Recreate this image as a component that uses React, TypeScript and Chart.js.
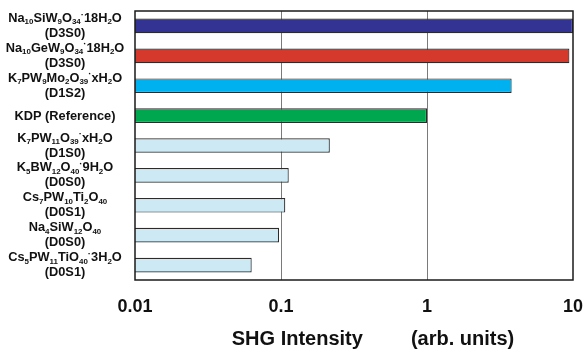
import React, { useEffect, useRef } from 'react';
import { Chart, registerables } from 'chart.js';

Chart.register(...registerables);

const FAMILY = '"Liberation Sans", Arial, Helvetica, sans-serif';

// Category labels (formula with _{sub} markup) and their class codes
const formulas = [
  'Na_{10}SiW_{9}O_{34}·18H_{2}O',
  'Na_{10}GeW_{9}O_{34}·18H_{2}O',
  'K_{7}PW_{9}Mo_{2}O_{39}·xH_{2}O',
  'KDP (Reference)',
  'K_{7}PW_{11}O_{39}·xH_{2}O',
  'K_{5}BW_{12}O_{40}·9H_{2}O',
  'Cs_{7}PW_{10}Ti_{2}O_{40}',
  'Na_{4}SiW_{12}O_{40}',
  'Cs_{5}PW_{11}TiO_{40}·3H_{2}O',
];
const codes = ['(D3S0)', '(D3S0)', '(D1S2)', '', '(D1S0)', '(D0S0)', '(D0S1)', '(D0S0)', '(D0S1)'];

// SHG intensity values (arb. units, relative to KDP)
const shgValues = [10, 9.45, 3.8, 1, 0.216, 0.113, 0.107, 0.097, 0.063];

const barColors = [
  '#333394', '#d4392b', '#00b1ef', '#00a74f',
  '#cde9f3', '#cde9f3', '#cde9f3', '#cde9f3', '#cde9f3',
];

const xTickValues = [0.01, 0.1, 1, 10];
const xTitleMain = 'SHG Intensity';
const xTitleUnit = '(arb. units)';

type Seg = { t: string; k: 'n' | 's' | 'd' };
function parse(text: string): Seg[] {
  const segs: Seg[] = [];
  const re = /_\{([^}]*)\}|·/g;
  let last = 0;
  let m: RegExpExecArray | null;
  while ((m = re.exec(text))) {
    if (m.index > last) segs.push({ t: text.slice(last, m.index), k: 'n' });
    if (m[0] === '·') segs.push({ t: '·', k: 'd' });
    else segs.push({ t: m[1], k: 's' });
    last = re.lastIndex;
  }
  if (last < text.length) segs.push({ t: text.slice(last), k: 'n' });
  return segs;
}

function drawRich(ctx: CanvasRenderingContext2D, text: string, cx: number, cy: number, size: number) {
  const segs = parse(text);
  const fontFor = (k: string) =>
    k === 'n' ? `bold ${size}px ${FAMILY}` : k === 's' ? `bold ${size * 0.62}px ${FAMILY}` : `bold ${size * 0.75}px ${FAMILY}`;
  const offFor = (k: string) => (k === 'n' ? 0 : k === 's' ? size * 0.3 : -size * 0.28);
  let total = 0;
  const widths = segs.map((s) => {
    ctx.font = fontFor(s.k);
    const w = ctx.measureText(s.t).width;
    total += w;
    return w;
  });
  let x = cx - total / 2;
  segs.forEach((s, i) => {
    ctx.font = fontFor(s.k);
    ctx.fillText(s.t, x, cy + offFor(s.k));
    x += widths[i];
  });
}

const labelPlugin = {
  id: 'richLabels',
  afterDraw(chart: any) {
    const { ctx, chartArea, scales } = chart;
    const y = scales.y;
    ctx.save();
    ctx.fillStyle = '#111';
    ctx.textBaseline = 'middle';
    ctx.textAlign = 'left';
    const cx = 65;
    formulas.forEach((f, i) => {
      const cy = y.getPixelForValue(i);
      if (codes[i]) {
        drawRich(ctx, f, cx, cy - 7.5, 12.8);
        drawRich(ctx, codes[i], cx, cy + 7.5, 12.8);
      } else {
        drawRich(ctx, f, cx, cy + 1, 12.8);
      }
    });
    // axis title
    ctx.font = `bold 20px ${FAMILY}`;
    const gap = 48;
    const w1 = ctx.measureText(xTitleMain).width;
    const w2 = ctx.measureText(xTitleUnit).width;
    const tcx = (chartArea.left + chartArea.right) / 2 + 19;
    const tx = tcx - (w1 + gap + w2) / 2;
    ctx.fillText(xTitleMain, tx, 339);
    ctx.fillText(xTitleUnit, tx + w1 + gap, 339);
    // frame around the plot area
    ctx.strokeStyle = '#1a1a1a';
    ctx.lineWidth = 1.5;
    ctx.strokeRect(chartArea.left, chartArea.top, chartArea.right - chartArea.left, chartArea.bottom - chartArea.top);
    ctx.restore();
  },
};

export default function App() {
  const ref = useRef<HTMLCanvasElement | null>(null);
  useEffect(() => {
    if (!ref.current) return;
    const chart = new Chart(ref.current, {
      type: 'bar',
      data: {
        labels: formulas.map((f) => f.replace(/_\{([^}]*)\}/g, '$1')),
        datasets: [
          {
            data: shgValues,
            backgroundColor: barColors,
            borderColor: '#2b2b2b',
            borderWidth: 1.2,
            barPercentage: 0.49,
            categoryPercentage: 1,
          },
        ],
      },
      options: {
        indexAxis: 'y',
        animation: false,
        responsive: true,
        maintainAspectRatio: false,
        layout: { padding: { top: 11, right: 10, left: 0, bottom: 0 } },
        plugins: { legend: { display: false }, tooltip: { enabled: false } },
        scales: {
          x: {
            type: 'logarithmic',
            min: 0.01,
            max: 10,
            afterBuildTicks: (s: any) => {
              s.ticks = xTickValues.map((v) => ({ value: v }));
            },
            afterFit: (s: any) => {
              s.height = 69;
              s.paddingLeft = 0;
              s.paddingRight = 0;
            },
            ticks: {
              autoSkip: false,
              maxRotation: 0,
              padding: 16,
              color: '#111',
              font: { family: FAMILY, size: 18, weight: 'bold' },
              callback: (v: any) => String(v),
            },
            grid: {
              drawTicks: false,
              lineWidth: 1,
              color: (c: any) => (c.tick && (c.tick.value === 0.1 || c.tick.value === 1) ? '#7a7a7a' : 'rgba(0,0,0,0)'),
            },
            border: { display: false },
            title: { display: false },
          },
          y: {
            type: 'category',
            offset: true,
            afterFit: (s: any) => {
              s.width = 135;
            },
            ticks: { display: false },
            grid: { display: false },
            border: { display: false },
          },
        },
      },
      plugins: [labelPlugin],
    } as any);
    return () => chart.destroy();
  }, []);
  return (
    <div style={{ position: 'fixed', left: 0, top: 0, width: 583, height: 349, background: '#fff' }}>
      <canvas ref={ref} />
    </div>
  );
}
